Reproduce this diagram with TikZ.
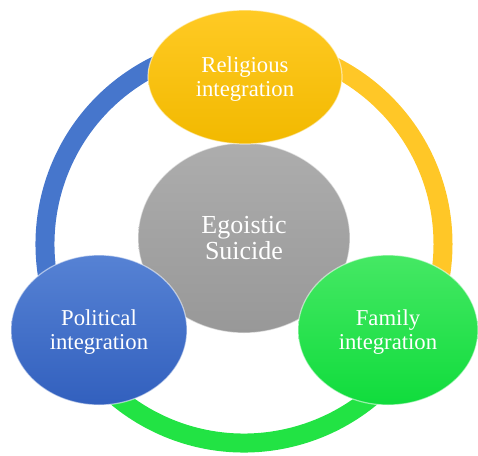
\documentclass[tikz,border=0pt]{standalone}
\usepackage{fontspec}
\setmainfont{Liberation Serif}
\usetikzlibrary{shapes.geometric}
\definecolor{ringyellow}{HTML}{FFC727}
\definecolor{ringgreen}{HTML}{22E344}
\definecolor{ringblue}{HTML}{4676CC}
\definecolor{relTop}{HTML}{FFCA24}
\definecolor{relBot}{HTML}{F2B900}
\definecolor{egoTop}{HTML}{ADADAD}
\definecolor{egoBot}{HTML}{989898}
\definecolor{polTop}{HTML}{5682D4}
\definecolor{polBot}{HTML}{3260BE}
\definecolor{famTop}{HTML}{45E864}
\definecolor{famBot}{HTML}{10DC3C}
\newcommand{\lowtext}[1]{\raisebox{-3pt}[\height][\depth]{\begin{tabular}{@{}c@{}}#1\end{tabular}}}
\begin{document}
\begin{tikzpicture}[x=1pt,y=-1pt,
  ringseg/.style={line width=19pt},
  bubble/.style={ellipse, inner sep=0pt, text=white, align=center,
    font=\fontsize{22.7}{24}\selectfont, draw=white, draw opacity=0.55, line width=1.2pt},
  centerbubble/.style={bubble, font=\fontsize{26}{26}\selectfont}
]
\useasboundingbox (0,0) rectangle (478,455);
\coordinate (o) at (244,244);
\draw[ringseg, draw=ringyellow] ([shift={(o)}]90:199pt) arc[start angle=90,end angle=-30,radius=199pt];
\draw[ringseg, draw=ringgreen] ([shift={(o)}]-30:199pt) arc[start angle=-30,end angle=-150,radius=199pt];
\draw[ringseg, draw=ringblue] ([shift={(o)}]-150:199pt) arc[start angle=-150,end angle=-270,radius=199pt];
\node[centerbubble, minimum width=212pt, minimum height=190pt, top color=egoTop, bottom color=egoBot] (ego) at (244,238) {Egoistic\\Suicide};
\node[bubble, minimum width=194pt, minimum height=134pt, top color=relTop, bottom color=relBot] (rel) at (245,77) {\lowtext{Religious\\integration}};
\node[bubble, minimum width=176pt, minimum height=150pt, top color=polTop, bottom color=polBot] (pol) at (99,330) {\lowtext{Political\\integration}};
\node[bubble, minimum width=180pt, minimum height=150pt, top color=famTop, bottom color=famBot] (fam) at (388,330) {\lowtext{Family\\integration}};
\end{tikzpicture}
\end{document}
